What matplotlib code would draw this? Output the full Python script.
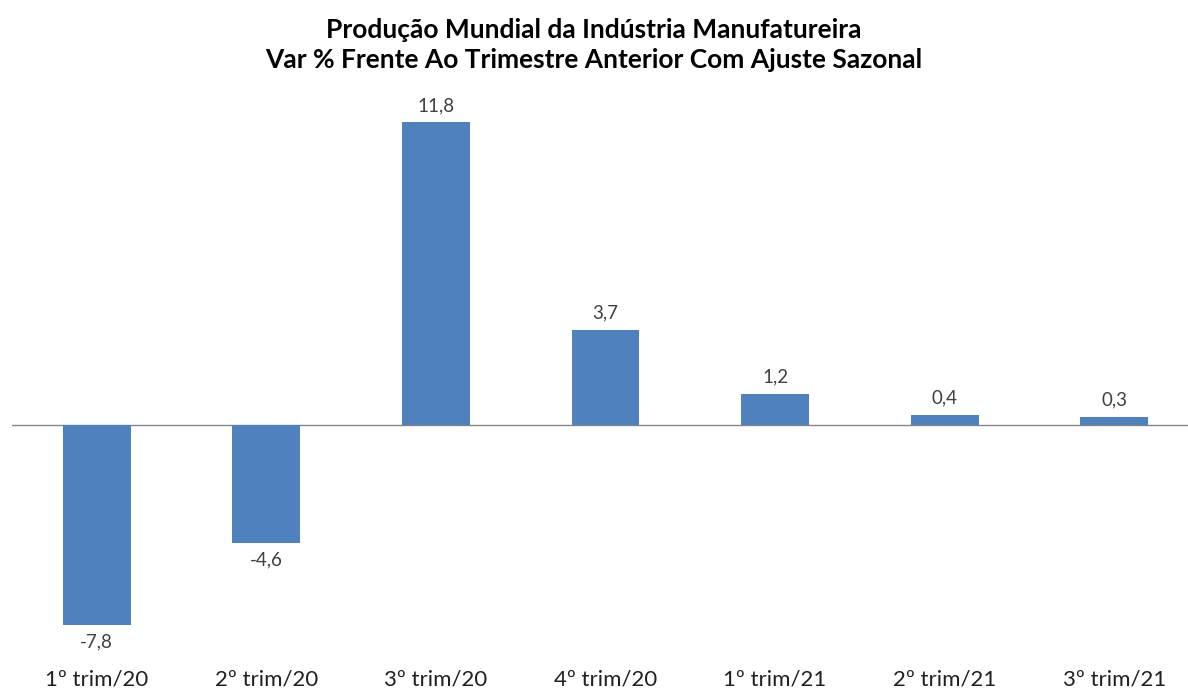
import matplotlib.pyplot as plt

# Dados
trimestres = ['1º trim/20', '2º trim/20', '3º trim/20', '4º trim/20',
              '1º trim/21', '2º trim/21', '3º trim/21']
variacao = [-7.8, -4.6, 11.8, 3.7, 1.2, 0.4, 0.3]

plt.rcParams['font.family'] = ['Lato', 'DejaVu Sans']

fig = plt.figure(figsize=(11.88, 6.93), dpi=100)
ax = fig.add_axes([12 / 1188, 1 - 640 / 693, 1187 / 1188, (640 - 102) / 693])

x = range(len(trimestres))
ax.bar(x, variacao, width=0.4, color='#4F81BD', zorder=2)
ax.axhline(0, color='#868686', linewidth=1, zorder=1)

for xi, v in zip(x, variacao):
    txt = f'{v:.1f}'.replace('.', ',')
    if v >= 0:
        ax.annotate(txt, (xi, v), xytext=(0, 6), textcoords='offset points',
                    ha='center', va='bottom', fontsize=13.5, color='#404040')
    else:
        ax.annotate(txt, (xi, v), xytext=(0, -6), textcoords='offset points',
                    ha='center', va='top', fontsize=13.5, color='#404040')

ax.set_xlim(-0.5, len(trimestres) - 0.5)
ax.set_ylim(-8.4, 12.6)
ax.set_xticks(list(x))
ax.set_xticklabels(trimestres, fontsize=16, color='#202020')
ax.tick_params(axis='x', length=0, pad=21)
ax.set_yticks([])
for s in ax.spines.values():
    s.set_visible(False)

fig.text(0.5, 1 - 45 / 693,
         'Produção Mundial da Indústria Manufatureira\n'
         'Var % Frente Ao Trimestre Anterior Com Ajuste Sazonal',
         ha='center', va='center', fontsize=19, fontweight='bold',
         color='#000000', linespacing=1.25)

fig.savefig('out.png', dpi=100)
